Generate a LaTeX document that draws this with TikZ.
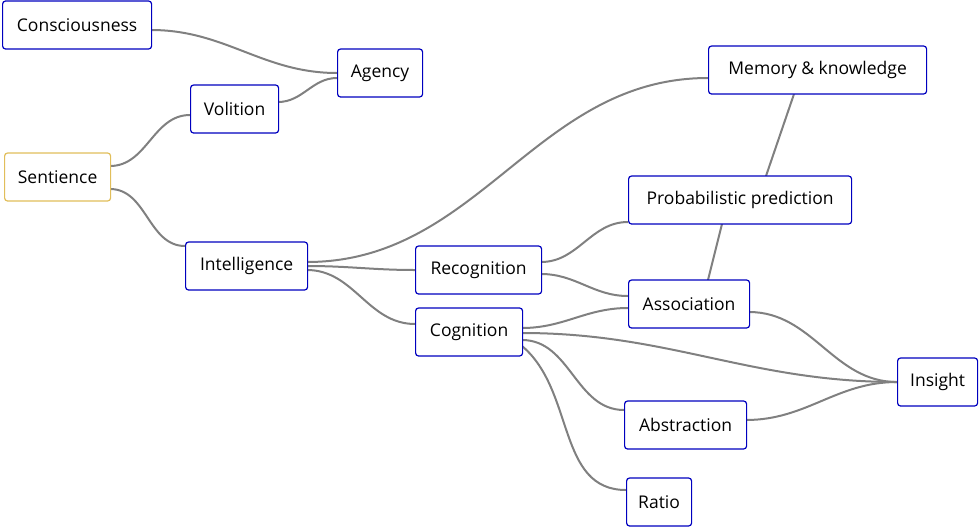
\documentclass[tikz,border=0pt]{standalone}
\usepackage{fontspec}
\setmainfont{Open Sans}
\begin{document}
\begin{tikzpicture}[x=1pt,y=-1pt,
  box/.style={draw=blue!75!black,line width=1.2pt,rounded corners=3pt,fill=white,font=\fontsize{17.5}{20}\selectfont,inner xsep=9pt,inner ysep=0pt,minimum height=48pt,anchor=west,align=left},
  edge/.style={draw=gray,line width=2pt,out=0,in=180}]
\useasboundingbox (0,0) rectangle (980,528);
\path[edge] (151,30) to (337,73);
\path[edge] (278,102) to (337,78);
\path[edge] (110,166) to (190,115);
\path[edge] (110,189) to (185,246);
\path[edge] (307,262) to (708,78);
\path[edge] (307,266) to (415,270);
\path[edge] (307,270) to (415,324);
\path[edge] (541,262) to (628,222);
\path[edge] (541,274) to (628,296);
\draw[gray,line width=2pt] (794,94) -- (766,176);
\draw[gray,line width=2pt] (722,224) -- (708,280);
\path[edge] (522,328) to (628,308);
\path[edge] (522,333) to (897,382);
\path[edge] (522,340) to (624,410);
\path[edge,out=-40] (522,346) to (626,490);
\path[edge] (749,312) to (897,382);
\path[edge] (746,420) to (897,382);
\node[box,minimum width=149pt] (con) at (2,25) {Consciousness};
\node[box,minimum width=85pt] (ag) at (337,73) {Agency};
\node[box,minimum width=88pt] (vol) at (190,109) {Volition};
\node[box,draw={rgb,255:red,225;green,190;blue,90},minimum width=106pt] (sen) at (4,177) {Sentience};
\node[box,minimum width=122pt] (int) at (185,266) {Intelligence};
\node[box,minimum width=218pt] (mem) at (708,70) {Memory \& knowledge};
\node[box,minimum width=223pt] (pro) at (628,200) {Probabilistic prediction};
\node[box,minimum width=126pt] (rec) at (415,270) {Recognition};
\node[box,minimum width=121pt] (ass) at (628,304) {Association};
\node[box,minimum width=107pt] (cog) at (415,332) {Cognition};
\node[box,minimum width=80pt] (ins) at (897,382) {Insight};
\node[box,minimum width=122pt] (abs) at (624,425) {Abstraction};
\node[box,minimum width=65pt] (rat) at (626,502) {Ratio};
\end{tikzpicture}
\end{document}
